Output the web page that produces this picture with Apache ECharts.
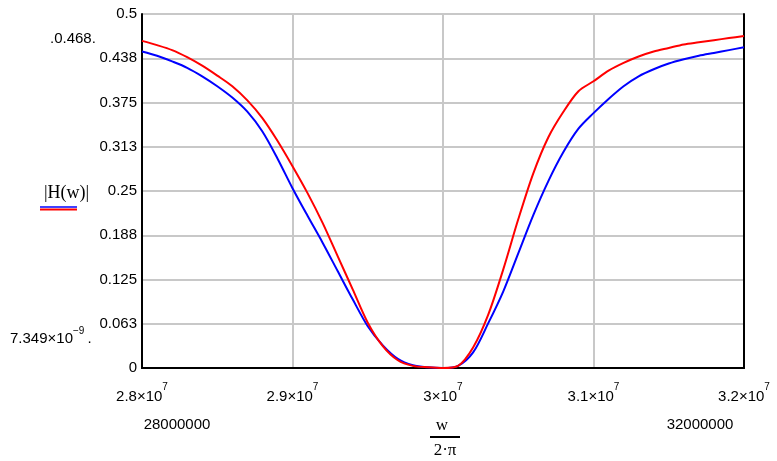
<!DOCTYPE html>
<html>
<head>
<meta charset="UTF-8" />
<title>|H(w)|</title>
<script src="https://cdn.jsdelivr.net/npm/echarts@6/dist/echarts.min.js"></script>
<style>
  html, body { margin: 0; padding: 0; background: #fff; }
  #chart { width: 777px; height: 461px; }
</style>
</head>
<body>
<div id="chart"></div>
<script>
// frequency w/(2*pi) in MHz
const freqMHz = [28.0, 28.1, 28.2, 28.3, 28.4, 28.5, 28.6, 28.7, 28.8, 28.9,
  29.0, 29.1, 29.2, 29.3, 29.4, 29.5, 29.6, 29.7, 29.8, 29.9,
  30.0, 30.1, 30.2, 30.3, 30.4, 30.5, 30.6, 30.7, 30.8, 30.9,
  31.0, 31.1, 31.2, 31.3, 31.4, 31.5, 31.6, 31.7, 31.8, 31.9, 32.0];
// red trace
const hRed = [0.462, 0.456, 0.449, 0.439, 0.427, 0.413, 0.398, 0.378, 0.353, 0.321,
  0.285, 0.247, 0.205, 0.158, 0.111, 0.064, 0.031, 0.011, 0.003, 0.001,
  0.000, 0.003, 0.029, 0.075, 0.139, 0.210, 0.275, 0.326, 0.362, 0.391,
  0.405, 0.420, 0.431, 0.440, 0.447, 0.452, 0.457, 0.460, 0.463, 0.466, 0.469];
// blue trace
const hBlue = [0.447, 0.441, 0.433, 0.424, 0.412, 0.398, 0.382, 0.362, 0.334, 0.296,
  0.254, 0.215, 0.177, 0.137, 0.097, 0.059, 0.032, 0.013, 0.004, 0.001,
  0.000, 0.003, 0.022, 0.063, 0.108, 0.162, 0.216, 0.264, 0.305, 0.338,
  0.360, 0.380, 0.398, 0.412, 0.422, 0.430, 0.436, 0.441, 0.445, 0.449, 0.453];

const xMin = 28e6, xMax = 32e6, xStep = 1e6;
const yMin = 0, yMax = 0.5, yStep = 0.0625;

const pairs = (ys) => freqMHz.map((f, i) => [f * 1e6, ys[i]]);

const chart = echarts.init(document.getElementById('chart'));
const sans = 'Liberation Sans';
const serif = 'Liberation Serif';

chart.setOption({
  animation: false,
  backgroundColor: '#fff',
  grid: { left: 142, right: 33, top: 14, bottom: 93 },
  xAxis: [{
    type: 'value', min: xMin, max: xMax, interval: xStep,
    axisLine: { show: true, onZero: false, lineStyle: { color: '#000', width: 2 } },
    axisTick: { show: false },
    splitLine: { show: true, lineStyle: { color: '#c8c8c8', width: 2 } },
    axisLabel: {
      margin: 14,
      formatter: (v) => '{a|' + (v / 1e7) + '×10}{s|7}',
      rich: {
        a: { fontFamily: sans, fontSize: 15, color: '#000', lineHeight: 22, verticalAlign: 'bottom' },
        s: { fontFamily: sans, fontSize: 10, color: '#000', lineHeight: 22, verticalAlign: 'top', padding: [0, 0, 8, 0] }
      }
    }
  }, {
    type: 'value', min: xMin, max: xMax, position: 'top',
    axisLine: { show: true, lineStyle: { color: '#000', width: 2 } },
    axisTick: { show: false }, axisLabel: { show: false }, splitLine: { show: false }
  }],
  yAxis: [{
    type: 'value', min: yMin, max: yMax, interval: yStep,
    axisLine: { show: true, onZero: false, lineStyle: { color: '#000', width: 2 } },
    axisTick: { show: false },
    splitLine: { show: true, lineStyle: { color: '#c8c8c8', width: 2 } },
    axisLabel: {
      margin: 5, fontFamily: sans, fontSize: 15, color: '#000',
      formatter: (v) => parseFloat(v.toFixed(3)).toString()
    }
  }, {
    type: 'value', min: yMin, max: yMax, position: 'right',
    axisLine: { show: true, lineStyle: { color: '#000', width: 2 } },
    axisTick: { show: false }, axisLabel: { show: false }, splitLine: { show: false }
  }],
  series: [
    {
      name: 'blue', type: 'line', data: pairs(hBlue), showSymbol: false, smooth: 0.3,
      lineStyle: { color: '#0000ff', width: 2 }, itemStyle: { color: '#0000ff' }, z: 3
    },
    {
      name: 'red', type: 'line', data: pairs(hRed), showSymbol: false, smooth: 0.3,
      lineStyle: { color: '#ff0000', width: 2 }, itemStyle: { color: '#ff0000' }, z: 4
    }
  ],
  graphic: [
    // y-range markers
    { type: 'text', x: 50, y: 39, style: { text: '.0.468.', font: '15px ' + sans, fill: '#000', verticalAlign: 'middle' } },
    {
      type: 'text', left: 10, top: 326,
      style: {
        text: '{a|7.349×10}{s|−9}{d|.}',
        rich: {
          a: { fontFamily: sans, fontSize: 15, fill: '#000', lineHeight: 20, verticalAlign: 'bottom' },
          s: { fontFamily: sans, fontSize: 10, fill: '#000', lineHeight: 20, verticalAlign: 'top', padding: [0, 0, 8, 0] },
          d: { fontFamily: sans, fontSize: 15, fill: '#000', lineHeight: 20, verticalAlign: 'bottom', padding: [0, 0, 0, 3] }
        }
      }
    },
    // y title |H(w)| with trace keys
    { type: 'text', x: 44, y: 193, style: { text: '|H(w)|', font: '18px ' + serif, fill: '#000', verticalAlign: 'middle' } },
    { type: 'line', shape: { x1: 40, y1: 207, x2: 77, y2: 207 }, style: { stroke: '#0000ff', lineWidth: 1.5 } },
    { type: 'line', shape: { x1: 40, y1: 209.5, x2: 77, y2: 209.5 }, style: { stroke: '#ff0000', lineWidth: 2 } },
    // x-range markers
    { type: 'text', x: 177, y: 425, style: { text: '28000000', font: '15px ' + sans, fill: '#000', align: 'center', verticalAlign: 'middle' } },
    { type: 'text', x: 700, y: 425, style: { text: '32000000', font: '15px ' + sans, fill: '#000', align: 'center', verticalAlign: 'middle' } },
    // x title w / (2·π)
    { type: 'text', x: 442, y: 426, style: { text: 'w', font: '17px ' + serif, fill: '#000', align: 'center', verticalAlign: 'middle' } },
    { type: 'line', shape: { x1: 430, y1: 437, x2: 460, y2: 437 }, style: { stroke: '#000', lineWidth: 2 } },
    { type: 'text', x: 445, y: 451, style: { text: '2·π', font: '17px ' + serif, fill: '#000', align: 'center', verticalAlign: 'middle' } }
  ]
});
</script>
</body>
</html>
